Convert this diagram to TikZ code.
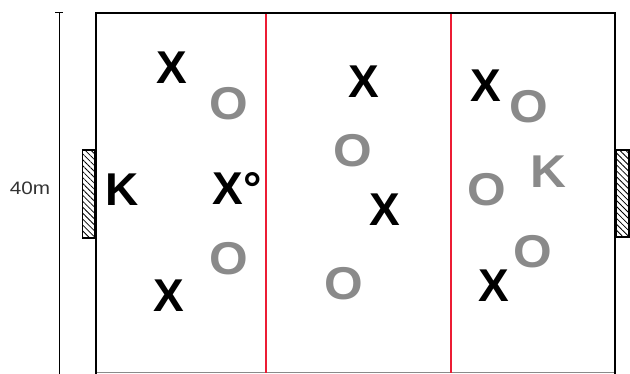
\documentclass[tikz,border=0pt]{standalone}
\usepackage{fontspec}
\setmainfont{Liberation Sans}
\usetikzlibrary{patterns.meta}
\definecolor{linered}{RGB}{236,28,52}
\definecolor{ogray}{RGB}{138,138,138}
\tikzset{
  xp/.style={font=\bfseries\fontsize{46}{46}\selectfont, text=black, inner sep=0pt},
  op/.style={font=\bfseries\fontsize{46}{46}\selectfont, text=ogray, inner sep=0pt, xscale=1.08},
  goalbox/.style={draw=black, line width=1.2pt, pattern={Lines[angle=-45,distance=4.2pt,line width=0.8pt]}},
  border/.style={draw=black, line width=2.2pt},
  midline/.style={draw=linered, line width=2.8pt},
}
\begin{document}
\begin{tikzpicture}[x=1pt,y=-1pt]
\useasboundingbox (0,0) rectangle (630,374);
% dimension
\coordinate (dimtop) at (59,13);
\coordinate (dimbot) at (59,374);
\draw[line width=1pt] (dimtop) -- (dimbot);
\draw[line width=1pt] ([xshift=-4pt]dimtop) -- ([xshift=4pt]dimtop);
\node[font=\fontsize{18}{18}\selectfont, text=black!80, xscale=1.15, inner sep=0pt] (dimlabel) at (30,188) {40m};
% field
\coordinate (bl) at (96,373);
\coordinate (tl) at (96,13);
\coordinate (tr) at (615,13);
\coordinate (br) at (615,373);
\draw[ogray, line width=1pt] (bl) -- (br);
\draw[border, line cap=rect] (bl) -- (tl) -- (tr) -- (br);
% red lines
\coordinate (r1t) at (266,14); \coordinate (r1b) at (266,373);
\coordinate (r2t) at (451,14); \coordinate (r2b) at (451,373);
\draw[midline] (r1t) -- (r1b);
\draw[midline] (r2t) -- (r2b);
% goals
\path[goalbox] (82.5,150) rectangle (95,238);
\path[goalbox] (616.5,150) rectangle (629,237);
% players
\node[xp] (x1) at (172,68) {X};
\node[op] (o1) at (229,104) {O};
\node[xp] (k1) at (122,190) {K};
\node[xp] (x2) at (237,188) {X°};
\node[op] (o2) at (229,259) {O};
\node[xp] (x3) at (169,296) {X};
\node[xp] (x4) at (364,82) {X};
\node[op] (o3) at (353,151) {O};
\node[xp] (x5) at (385,210) {X};
\node[op] (o4) at (344,284) {O};
\node[xp] (x6) at (486,86) {X};
\node[op] (o5) at (529,107) {O};
\node[op] (k2) at (548,172) {K};
\node[op] (o6) at (487,190) {O};
\node[op] (o7) at (533,252) {O};
\node[xp] (x7) at (494,286) {X};
\end{tikzpicture}
\end{document}
